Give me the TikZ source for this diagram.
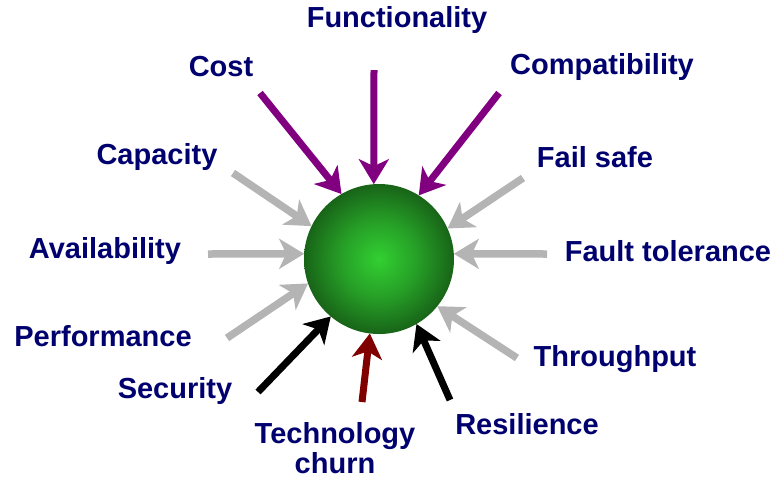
\documentclass[tikz,border=0pt]{standalone}
\usepackage{fontspec}
\setmainfont{Liberation Sans}
\usetikzlibrary{arrows.meta}
\definecolor{navytext}{RGB}{0,0,110}
\definecolor{ballhi}{RGB}{50,208,50}
\definecolor{ballmid}{RGB}{38,158,38}
\definecolor{ballrim}{RGB}{24,100,24}
\definecolor{forcegray}{RGB}{180,180,180}
\definecolor{forcepurple}{RGB}{128,0,128}
\definecolor{forcered}{RGB}{128,0,0}
\pgfdeclareradialshading{greenball}{\pgfpoint{0bp}{0bp}}{color(0bp)=(ballhi); color(13bp)=(ballmid); color(25bp)=(ballrim); color(50bp)=(ballrim)}
\begin{document}
\begin{tikzpicture}[x=0.5pt,y=-0.5pt,
    factor/.style={font=\fontsize{14.5}{15}\selectfont\bfseries, text=navytext, inner sep=0pt, align=center},
    force/.style={line width=3.5pt, -{Stealth[length=12.5pt,width=15pt,inset=3.5pt]}}]
    \useasboundingbox (0,0) rectangle (776,478);

    % the system in the middle
    \node[circle, minimum size=75pt, inner sep=0pt, outer sep=0pt,
          shading=greenball] (core) at (379,259) {};

    % labels
    \node[factor] (l-func) at (397,20) {Functionality};
    \node[factor] (l-cost) at (221,67) {Cost};
    \node[factor] (l-compat) at (602,67) {Compatibility};
    \node[factor] (l-cap) at (157,157) {Capacity};
    \node[factor] (l-fail) at (595,157) {Fail safe};
    \node[factor] (l-avail) at (105,251) {Availability};
    \node[factor] (l-fault) at (668,251) {Fault tolerance};
    \node[factor] (l-perf) at (103,336) {Performance};
    \node[factor] (l-thru) at (615,359) {Throughput};
    \node[factor] (l-sec) at (175,391) {Security};
    \node[factor] (l-tech) at (335,448) {Technology\\churn};
    \node[factor] (l-resil) at (527,424) {Resilience};

    % free ends of the arrows
    \coordinate (s-func) at (374,70);
    \coordinate (s-cost) at (260,93);
    \coordinate (s-compat) at (499,93);
    \coordinate (s-cap) at (233,173);
    \coordinate (s-fail) at (523,178);
    \coordinate (s-avail) at (208,254);
    \coordinate (s-fault) at (547,254);
    \coordinate (s-perf) at (227,338);
    \coordinate (s-thru) at (517,358);
    \coordinate (s-sec) at (258,392);
    \coordinate (s-tech) at (362,402);
    \coordinate (s-resil) at (450,400);

    % top: purple
    \draw[force, forcepurple] (s-func) -- (core.94);
    \draw[force, forcepurple] (s-cost) -- (core.120);
    \draw[force, forcepurple] (s-compat) -- (core.58);

    % sides: gray
    \draw[force, forcegray, line width=3.75pt] (s-cap) -- (core.154);
    \draw[force, forcegray, line width=3.75pt] (s-avail) -- (core.176);
    \draw[force, forcegray, line width=3.75pt] (s-perf) -- (core.199);
    \draw[force, forcegray, line width=3.75pt] (s-fail) -- (core.24);
    \draw[force, forcegray, line width=3.75pt] (s-fault) -- (core.4);
    \draw[force, forcegray, line width=3.75pt] (s-thru) -- (core.-39);

    % bottom
    \draw[force, black] (s-sec) -- (core.230);
    \draw[force, forcered] (s-tech) -- (core.263);
    \draw[force, black] (s-resil) -- (core.-60);
\end{tikzpicture}
\end{document}
